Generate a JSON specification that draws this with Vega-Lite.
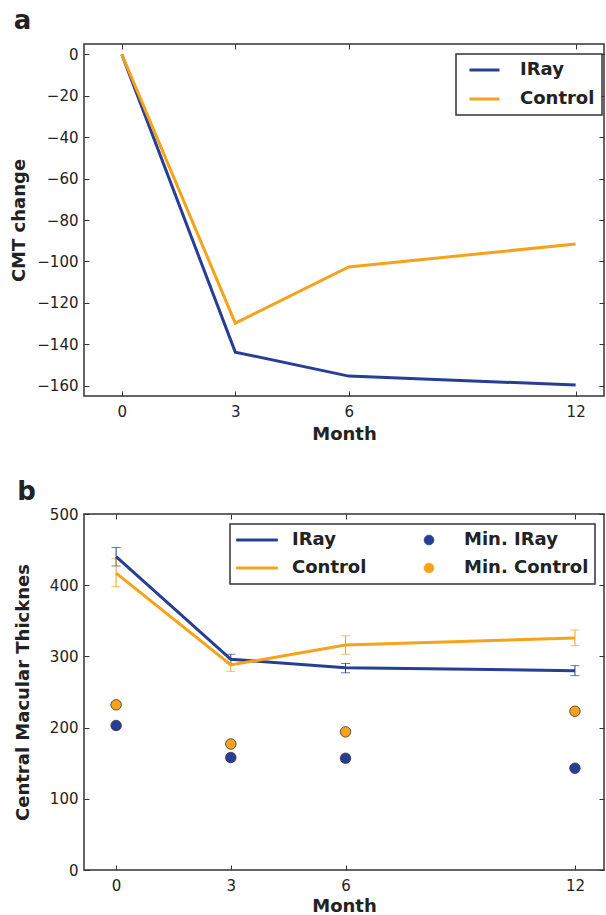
{
  "$schema": "https://vega.github.io/schema/vega-lite/v6.json",
  "padding": {"left": 10, "top": 6, "right": 0, "bottom": 0},
  "background": "white",
  "config": {
    "font": "DejaVu Sans",
    "view": {"stroke": "#333333", "strokeWidth": 1.5},
    "axis": {
      "labelFont": "DejaVu Sans", "labelFontSize": 15, "labelColor": "#222222",
      "titleFont": "DejaVu Sans", "titleFontSize": 18, "titleFontWeight": "bold", "titleColor": "#222222",
      "domain": false, "grid": false, "tickSize": -5, "tickColor": "#333333", "tickWidth": 1,
      "labelPadding": 11, "titlePadding": 8
    },
    "legend": {"labelFont": "DejaVu Sans", "labelFontSize": 18, "labelFontWeight": "bold", "labelColor": "#222222"}
  },
  "vconcat": [
    {
      "title": {"text": "a", "anchor": "start", "frame": "bounds", "fontSize": 26, "fontWeight": "bold", "color": "#222222", "offset": 10, "dx": 3},
      "width": 520,
      "height": 352,
      "data": {"values": [
        {"month": 0, "series": "IRay", "change": 0},
        {"month": 3, "series": "IRay", "change": -143.8},
        {"month": 6, "series": "IRay", "change": -155.4},
        {"month": 12, "series": "IRay", "change": -159.7},
        {"month": 0, "series": "Control", "change": 0},
        {"month": 3, "series": "Control", "change": -129.8},
        {"month": 6, "series": "Control", "change": -102.7},
        {"month": 12, "series": "Control", "change": -91.6}
      ]},
      "layer": [
        {
          "mark": {"type": "line", "strokeWidth": 3},
          "encoding": {
            "x": {"field": "month", "type": "quantitative", "scale": {"domain": [-1, 12.75], "nice": false, "zero": false},
                  "axis": {"values": [0, 3, 6, 12], "title": "Month", "titlePadding": 6, "labelPadding": 13}},
            "y": {"field": "change", "type": "quantitative", "scale": {"domain": [-165, 5], "nice": false, "zero": false},
                  "axis": {"values": [-160, -140, -120, -100, -80, -60, -40, -20, 0], "title": "CMT change", "titlePadding": 8,
                           "labelExpr": "(datum.value < 0 ? '\u2212' : '') + abs(datum.value)"}},
            "color": {"field": "series", "type": "nominal",
                      "scale": {"domain": ["IRay", "Control"], "range": ["#273e96", "#f7a21b"]},
                      "legend": {"orient": "none", "legendX": 372, "legendY": 10, "title": null,
                                 "symbolType": "stroke", "symbolSize": 900, "symbolStrokeWidth": 3,
                                 "labelOffset": 19, "padding": 7, "symbolOffset": 5, "rowPadding": 11, "clipHeight": 18,
                                 "strokeColor": "#333333", "fillColor": "white",
                                 "encode": {"legend": {"update": {"strokeWidth": {"value": 1.5}}}}}}
          }
        },
        {
          "mark": {"type": "point", "opacity": 0},
          "encoding": {
            "x": {"field": "month", "type": "quantitative", "axis": {"orient": "top", "values": [0, 3, 6, 12], "labels": false, "title": null}},
            "y": {"field": "change", "type": "quantitative", "axis": {"orient": "right", "values": [-160, -140, -120, -100, -80, -60, -40, -20, 0], "labels": false, "title": null}}
          }
        }
      ],
      "resolve": {"axis": {"x": "independent", "y": "independent"}}
    },
    {
      "title": {"text": "b", "anchor": "start", "frame": "bounds", "fontSize": 26, "fontWeight": "bold", "color": "#222222", "offset": 2, "dx": 3},
      "width": 520,
      "height": 356,
      "data": {"values": [
        {"month": 0, "series": "IRay", "value": 440, "lo": 427, "hi": 453},
        {"month": 3, "series": "IRay", "value": 296, "lo": 290, "hi": 303},
        {"month": 6, "series": "IRay", "value": 284, "lo": 277, "hi": 290},
        {"month": 12, "series": "IRay", "value": 280, "lo": 273, "hi": 287},
        {"month": 0, "series": "Control", "value": 417, "lo": 398, "hi": 437},
        {"month": 3, "series": "Control", "value": 288, "lo": 279, "hi": 296},
        {"month": 6, "series": "Control", "value": 316, "lo": 303, "hi": 329},
        {"month": 12, "series": "Control", "value": 326, "lo": 315, "hi": 337},
        {"month": 0, "series": "Min. IRay", "value": 203},
        {"month": 3, "series": "Min. IRay", "value": 158},
        {"month": 6, "series": "Min. IRay", "value": 157},
        {"month": 12, "series": "Min. IRay", "value": 143},
        {"month": 0, "series": "Min. Control", "value": 232},
        {"month": 3, "series": "Min. Control", "value": 177},
        {"month": 6, "series": "Min. Control", "value": 194},
        {"month": 12, "series": "Min. Control", "value": 223}
      ]},
      "layer": [
        {
          "transform": [{"filter": "datum.series == 'IRay' || datum.series == 'Control'"}],
          "mark": {"type": "errorbar", "ticks": {"size": 9}, "thickness": 1},
          "encoding": {
            "x": {"field": "month", "type": "quantitative", "scale": {"domain": [-0.84, 12.76], "nice": false, "zero": false}, "axis": null},
            "y": {"field": "lo", "type": "quantitative", "scale": {"domain": [0, 500], "nice": false, "zero": false}, "axis": null},
            "y2": {"field": "hi"},
            "color": {"field": "series", "type": "nominal"}
          }
        },
        {
          "transform": [{"filter": "datum.series == 'IRay' || datum.series == 'Control'"}],
          "mark": {"type": "line", "strokeWidth": 3},
          "encoding": {
            "x": {"field": "month", "type": "quantitative",
                  "axis": {"values": [0, 3, 6, 12], "title": "Month", "titlePadding": 4, "labelPadding": 13}},
            "y": {"field": "value", "type": "quantitative",
                  "axis": {"values": [0, 100, 200, 300, 400, 500], "title": "Central Macular Thicknes", "titlePadding": 17}},
            "color": {"field": "series", "type": "nominal",
                      "scale": {"domain": ["IRay", "Min. IRay", "Control", "Min. Control"], "range": ["#273e96", "#273e96", "#f7a21b", "#f7a21b"]},
                      "legend": {"orient": "none", "legendX": 146, "legendY": 10, "title": null, "columns": 2, "columnPadding": 41,
                                 "values": ["IRay", "Control", "Min. IRay", "Min. Control"],
                                 "symbolType": "circle", "symbolSize": 1681, "symbolStrokeWidth": 0.8,
                                 "labelOffset": 14, "padding": 6, "rowPadding": 8, "clipHeight": 20,
                                 "strokeColor": "#333333", "fillColor": "white",
                                 "encode": {
                                   "legend": {"update": {"strokeWidth": {"value": 1.5}}},
                                   "symbols": {"update": {
                                     "size": {"value": 1681},
                                     "strokeWidth": {"value": 0.8},
                                     "shape": {"signal": "indexof(['IRay','Control'], datum.value) >= 0 ? 'M-1,-0.054H1V0.054H-1Z' : 'M0.237,0A0.237,0.237,0,1,1,-0.237,0A0.237,0.237,0,1,1,0.237,0Z'"},
                                     "stroke": {"signal": "datum.value == 'IRay' ? '#273e96' : datum.value == 'Control' ? '#f7a21b' : '#333333'"},
                                     "fill": {"signal": "(datum.value == 'IRay' || datum.value == 'Min. IRay') ? '#273e96' : '#f7a21b'"},
                                     "opacity": {"value": 1}
                                   }}
                                 }}}
          }
        },
        {
          "transform": [{"filter": "datum.series == 'Min. IRay' || datum.series == 'Min. Control'"}],
          "mark": {"type": "point", "filled": true, "size": 110, "stroke": "#333333", "strokeWidth": 0.8, "opacity": 1},
          "encoding": {
            "x": {"field": "month", "type": "quantitative", "axis": null},
            "y": {"field": "value", "type": "quantitative", "axis": null},
            "color": {"field": "series", "type": "nominal"}
          }
        },
        {
          "mark": {"type": "point", "opacity": 0},
          "encoding": {
            "x": {"field": "month", "type": "quantitative", "axis": {"orient": "top", "values": [0, 3, 6, 12], "labels": false, "title": null}},
            "y": {"field": "value", "type": "quantitative", "axis": {"orient": "right", "values": [0, 100, 200, 300, 400, 500], "labels": false, "title": null}}
          }
        }
      ],
      "resolve": {"axis": {"x": "independent", "y": "independent"}}
    }
  ],
  "spacing": 34,
  "resolve": {"scale": {"color": "independent"}, "legend": {"color": "independent"}}
}
